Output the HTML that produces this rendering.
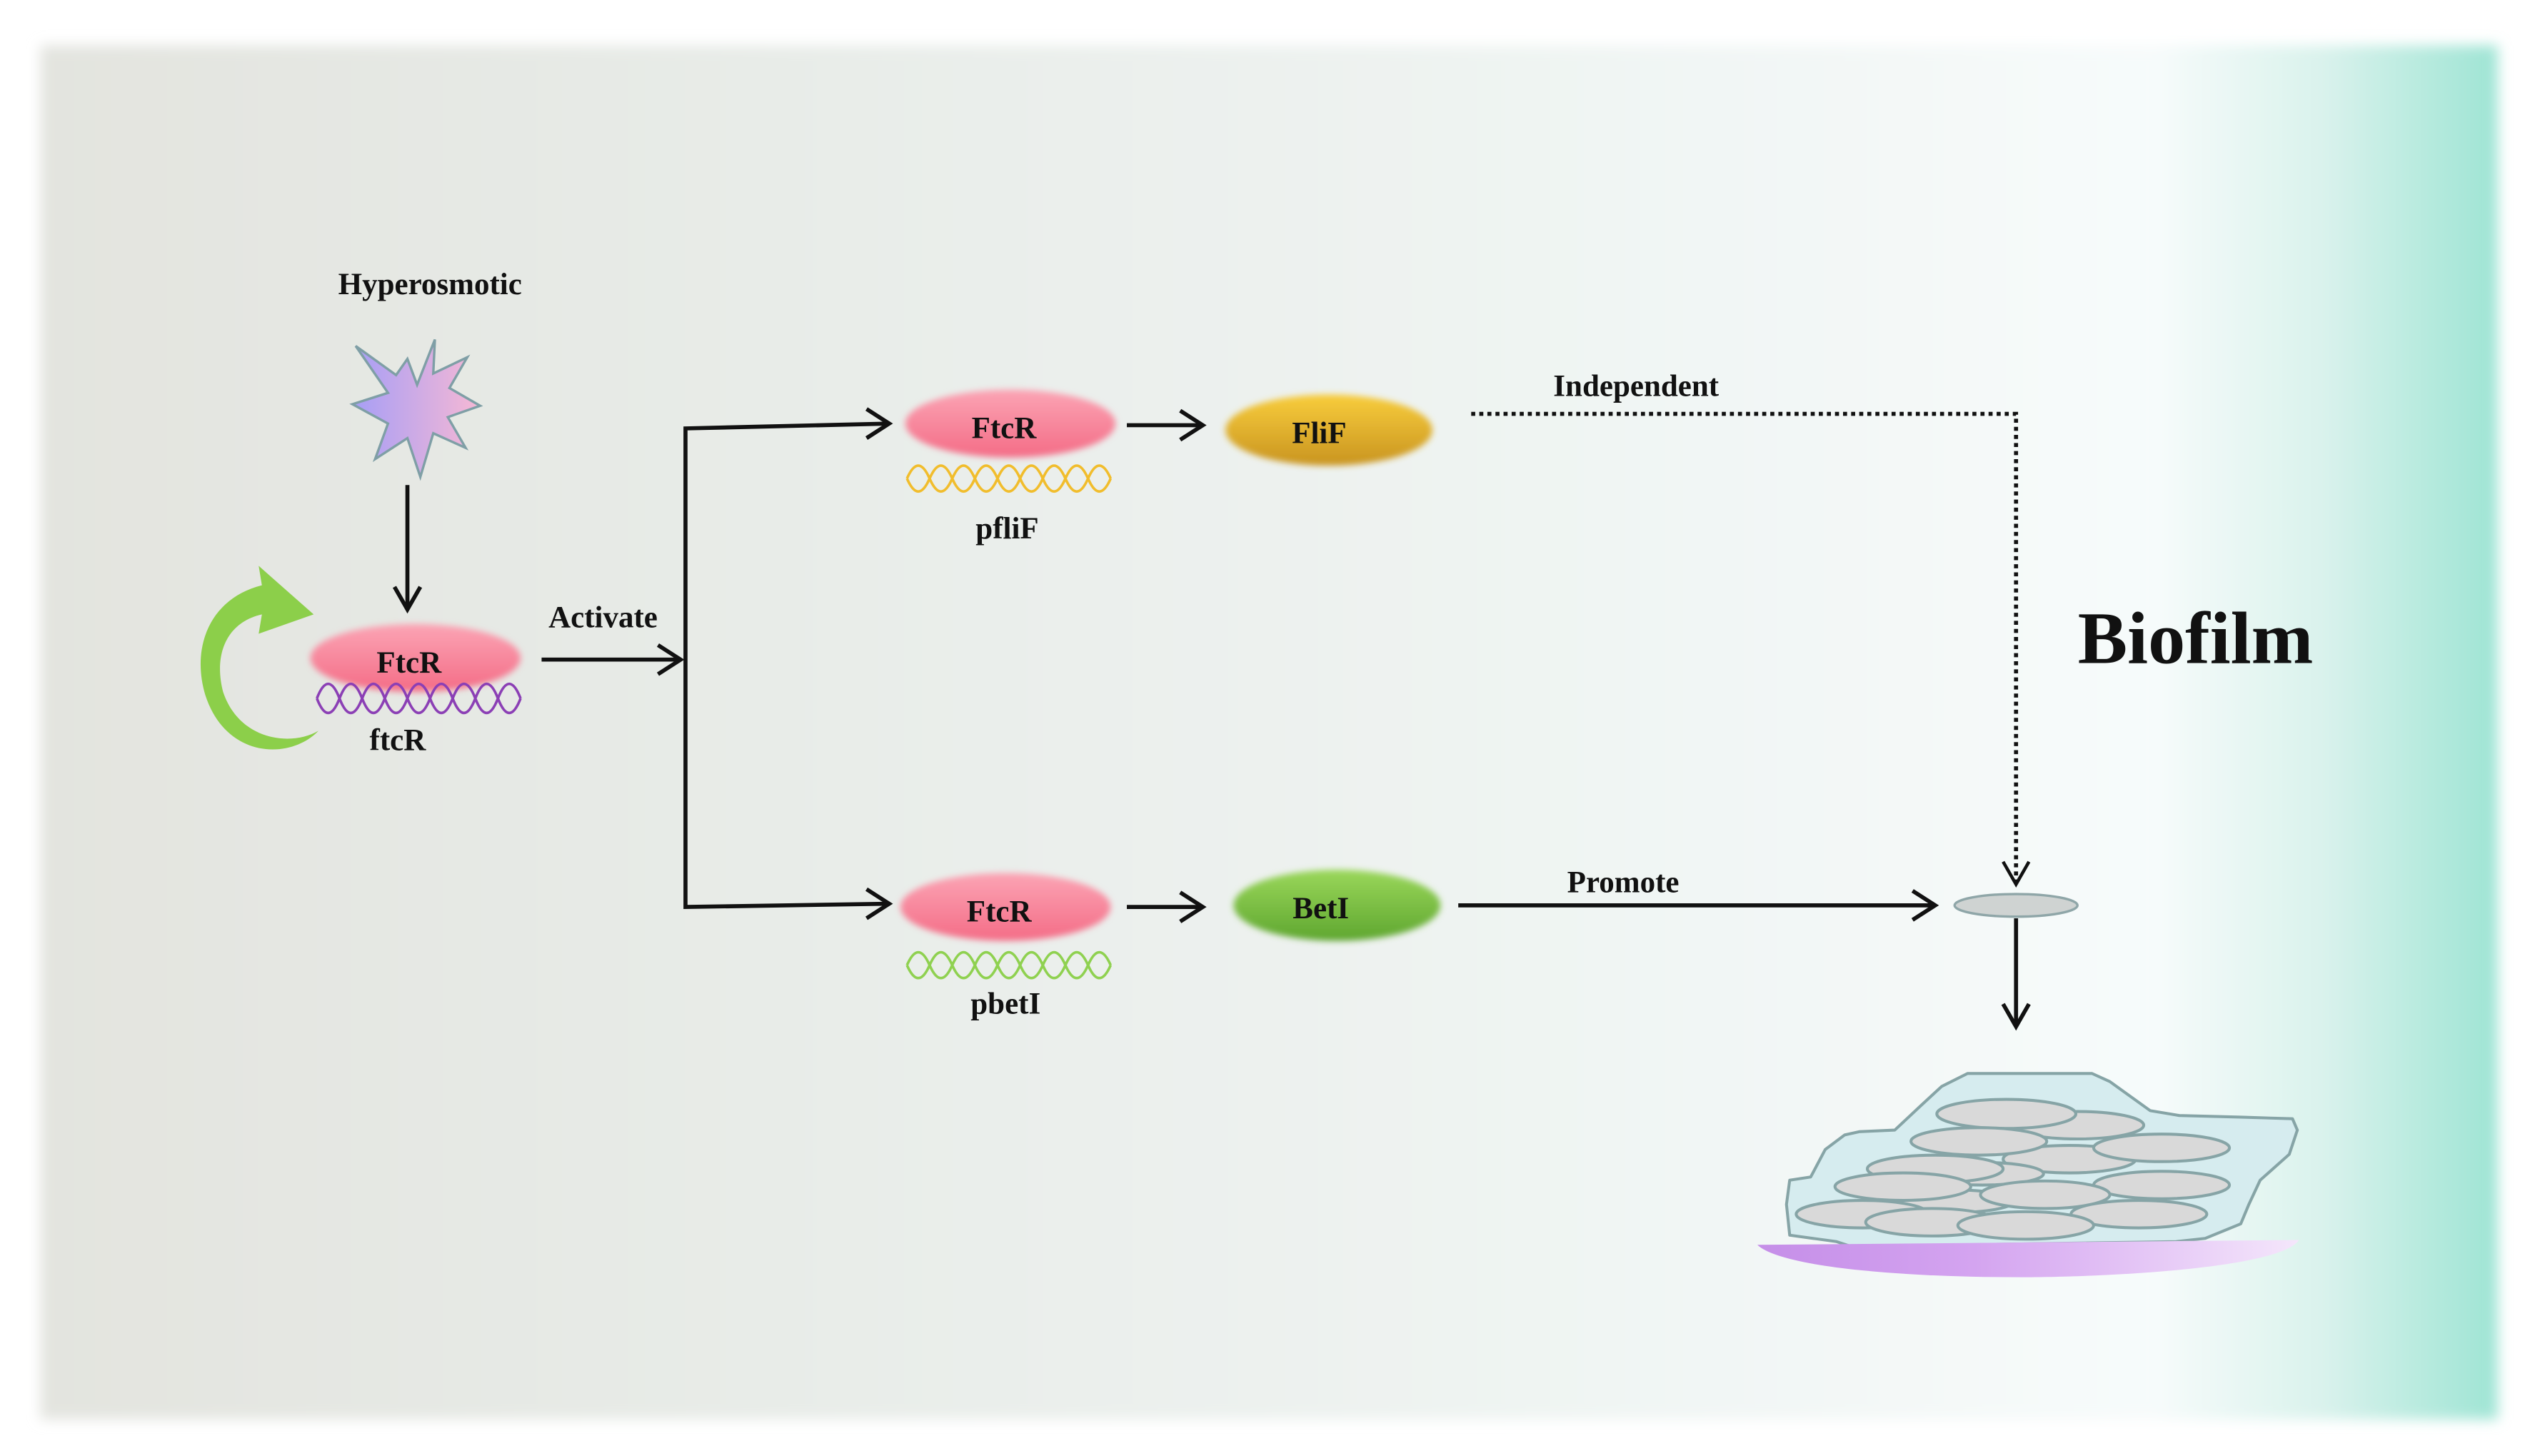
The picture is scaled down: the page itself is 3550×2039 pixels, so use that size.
<!DOCTYPE html>
<html><head><meta charset="utf-8"><style>
html,body{margin:0;padding:0;background:#fff;}
svg{display:block;}
text{font-family:"Liberation Serif",serif;font-weight:bold;fill:#111;}
</style></head><body>
<svg width="3550" height="2039" viewBox="0 0 1568 900.6" xmlns="http://www.w3.org/2000/svg">
<defs>
<linearGradient id="bg" x1="0" x2="1" y1="0" y2="0">
<stop offset="0" stop-color="#e3e4df"/>
<stop offset="0.3" stop-color="#e8ece8"/>
<stop offset="0.6" stop-color="#eff4f2"/>
<stop offset="0.86" stop-color="#f7fbfb"/>
<stop offset="0.93" stop-color="#d9f2ec"/>
<stop offset="1" stop-color="#9ee4d4"/>
</linearGradient>
<filter id="edge" x="-5%" y="-5%" width="110%" height="110%"><feGaussianBlur stdDeviation="4"/></filter>
<filter id="soft" x="-20%" y="-40%" width="140%" height="180%"><feGaussianBlur stdDeviation="2"/></filter>
<linearGradient id="pink" x1="0" x2="0" y1="0" y2="1">
<stop offset="0" stop-color="#fba4b4"/><stop offset="1" stop-color="#f46c86"/>
</linearGradient>
<linearGradient id="gold" x1="0" x2="0" y1="0" y2="1">
<stop offset="0" stop-color="#f8cd3c"/><stop offset="1" stop-color="#c99420"/>
</linearGradient>
<linearGradient id="grn" x1="0" x2="0" y1="0" y2="1">
<stop offset="0" stop-color="#9ad75a"/><stop offset="1" stop-color="#5ea62f"/>
</linearGradient>
<linearGradient id="star" x1="0" x2="1" y1="0" y2="0">
<stop offset="0" stop-color="#a69ef6"/><stop offset="1" stop-color="#f6b8d4"/>
</linearGradient>
<linearGradient id="purp" x1="0" x2="1" y1="0" y2="0">
<stop offset="0" stop-color="#c58ee8"/><stop offset="0.4" stop-color="#d4a4f0"/><stop offset="1" stop-color="#f4e6fb"/>
</linearGradient>
</defs>

<rect x="25" y="28" width="1520" height="850" fill="url(#bg)" filter="url(#edge)"/>

<text x="266" y="182" font-size="19" text-anchor="middle">Hyperosmotic</text>
<polygon fill="url(#star)" stroke="#7f9fa6" stroke-width="1.5" points="
269,210 268,231 289,221 278,240 297,251 277,258 288,277 268,268 260,295 252,271 232,284 240,262 218,250 240,243 220,214 245,232 252,222 258,238"/>

<line x1="252" y1="300" x2="252" y2="376" stroke="#111" stroke-width="2.5"/>
<polyline points="244,363 252,377 260,363" fill="none" stroke="#111" stroke-width="2.5"/>

<path d="M197,452 C180,470 140,470 127,430 C118,400 130,370 162,362 L160,350 L194,380 L160,392 L162,380 C140,385 132,405 138,428 C148,458 180,462 197,452 Z" fill="#8ccf4a"/>

<ellipse cx="257" cy="407" rx="65" ry="21" fill="url(#pink)" filter="url(#soft)"/>
<g fill="none" stroke="#8b3fb5" stroke-width="1.6">
<path d="M196,432 q7,-18 14,0 t14,0 t14,0 t14,0 t14,0 t14,0 t14,0 t14,0 t14,0"/>
<path d="M196,432 q7,18 14,0 t14,0 t14,0 t14,0 t14,0 t14,0 t14,0 t14,0 t14,0"/>
</g>
<text x="253" y="416" font-size="19" text-anchor="middle">FtcR</text>
<text x="246" y="464" font-size="19" text-anchor="middle">ftcR</text>

<text x="373" y="388" font-size="19" text-anchor="middle">Activate</text>
<line x1="335" y1="408" x2="420" y2="408" stroke="#111" stroke-width="2.5"/>
<polyline points="407,399 421,408 407,417" fill="none" stroke="#111" stroke-width="2.5"/>
<polyline points="550,262 424,265 424,561 550,559" fill="none" stroke="#111" stroke-width="2.5"/>
<polyline points="536,253 550,262 536,271" fill="none" stroke="#111" stroke-width="2.5"/>
<polyline points="536,550 550,559 536,568" fill="none" stroke="#111" stroke-width="2.5"/>

<ellipse cx="625" cy="262" rx="65" ry="21" fill="url(#pink)" filter="url(#soft)"/>
<g fill="none" stroke="#f1bd2c" stroke-width="1.6">
<path d="M561,296 q7,-16 14,0 t14,0 t14,0 t14,0 t14,0 t14,0 t14,0 t14,0 t14,0"/>
<path d="M561,296 q7,16 14,0 t14,0 t14,0 t14,0 t14,0 t14,0 t14,0 t14,0 t14,0"/>
</g>
<text x="621" y="271" font-size="19" text-anchor="middle">FtcR</text>
<text x="623" y="333" font-size="19" text-anchor="middle">pfliF</text>
<line x1="697" y1="263" x2="743" y2="263" stroke="#111" stroke-width="2.5"/>
<polyline points="730,254 744,263 730,272" fill="none" stroke="#111" stroke-width="2.5"/>
<ellipse cx="822" cy="266" rx="64" ry="22" fill="url(#gold)" filter="url(#soft)"/>
<text x="816" y="274" font-size="19" text-anchor="middle">FliF</text>

<text x="1012" y="245" font-size="19" text-anchor="middle">Independent</text>
<polyline points="910,256 1247,256 1247,546" fill="none" stroke="#111" stroke-width="2.5" stroke-dasharray="2.5,2.5"/>
<polyline points="1239,533 1247,547 1255,533" fill="none" stroke="#111" stroke-width="2"/>

<ellipse cx="622" cy="561" rx="65" ry="21" fill="url(#pink)" filter="url(#soft)"/>
<g fill="none" stroke="#8fd150" stroke-width="1.6">
<path d="M561,597 q7,-16 14,0 t14,0 t14,0 t14,0 t14,0 t14,0 t14,0 t14,0 t14,0"/>
<path d="M561,597 q7,16 14,0 t14,0 t14,0 t14,0 t14,0 t14,0 t14,0 t14,0 t14,0"/>
</g>
<text x="618" y="570" font-size="19" text-anchor="middle">FtcR</text>
<text x="622" y="627" font-size="19" text-anchor="middle">pbetI</text>
<line x1="697" y1="561" x2="743" y2="561" stroke="#111" stroke-width="2.5"/>
<polyline points="730,552 744,561 730,570" fill="none" stroke="#111" stroke-width="2.5"/>
<ellipse cx="827" cy="560" rx="64" ry="22" fill="url(#grn)" filter="url(#soft)"/>
<text x="817" y="568" font-size="19" text-anchor="middle">BetI</text>

<text x="1004" y="552" font-size="19" text-anchor="middle">Promote</text>
<line x1="902" y1="560" x2="1196" y2="560" stroke="#111" stroke-width="2.5"/>
<polyline points="1183,551 1197,560 1183,569" fill="none" stroke="#111" stroke-width="2.5"/>
<ellipse cx="1247" cy="560" rx="38" ry="7" fill="#cfd3d2" stroke="#8fa6a8" stroke-width="1.5"/>
<line x1="1247" y1="568" x2="1247" y2="634" stroke="#111" stroke-width="2.5"/>
<polyline points="1239,621 1247,635 1255,621" fill="none" stroke="#111" stroke-width="2.5"/>

<text x="1358" y="410" font-size="46" text-anchor="middle">Biofilm</text>

<polygon fill="#d6ecef" stroke="#86a4a6" stroke-width="1.8" stroke-linejoin="round" points="1107,730 1120,728 1129,711 1141,702 1150,700 1172,699 1188,684 1201,672 1217,664 1294,664 1305,669 1330,687 1348,690 1386,691 1418,692 1421,699 1416,714 1398,730 1391,745 1386,757 1364,766 1346,768 1145,771 1136,768 1107,764 1105,745"/>
<g fill="#d9d9d9" stroke="#86a4a6" stroke-width="1.8">
<ellipse cx="1285" cy="696" rx="41" ry="8.5"/>
<ellipse cx="1241" cy="689" rx="43" ry="9"/>
<ellipse cx="1280" cy="717" rx="41" ry="8.5"/>
<ellipse cx="1337" cy="710" rx="42" ry="8.5"/>
<ellipse cx="1224" cy="706" rx="42" ry="8.5"/>
<ellipse cx="1226" cy="726" rx="38" ry="7"/>
<ellipse cx="1197" cy="723" rx="42" ry="8.5"/>
<ellipse cx="1208" cy="743" rx="38" ry="7"/>
<ellipse cx="1337" cy="733" rx="42" ry="8.5"/>
<ellipse cx="1265" cy="739" rx="40" ry="8.5"/>
<ellipse cx="1177" cy="734" rx="42" ry="8.5"/>
<ellipse cx="1323" cy="751" rx="42" ry="8.5"/>
<ellipse cx="1152" cy="751" rx="41" ry="8.5"/>
<ellipse cx="1195" cy="756" rx="41" ry="8.5"/>
<ellipse cx="1253" cy="758" rx="42" ry="8.5"/>
</g>
<path d="M1087,770 L1422,767 C1410,785 1300,790 1250,790 C1170,790 1100,783 1087,770 Z" fill="url(#purp)"/>
</svg>
</body></html>
